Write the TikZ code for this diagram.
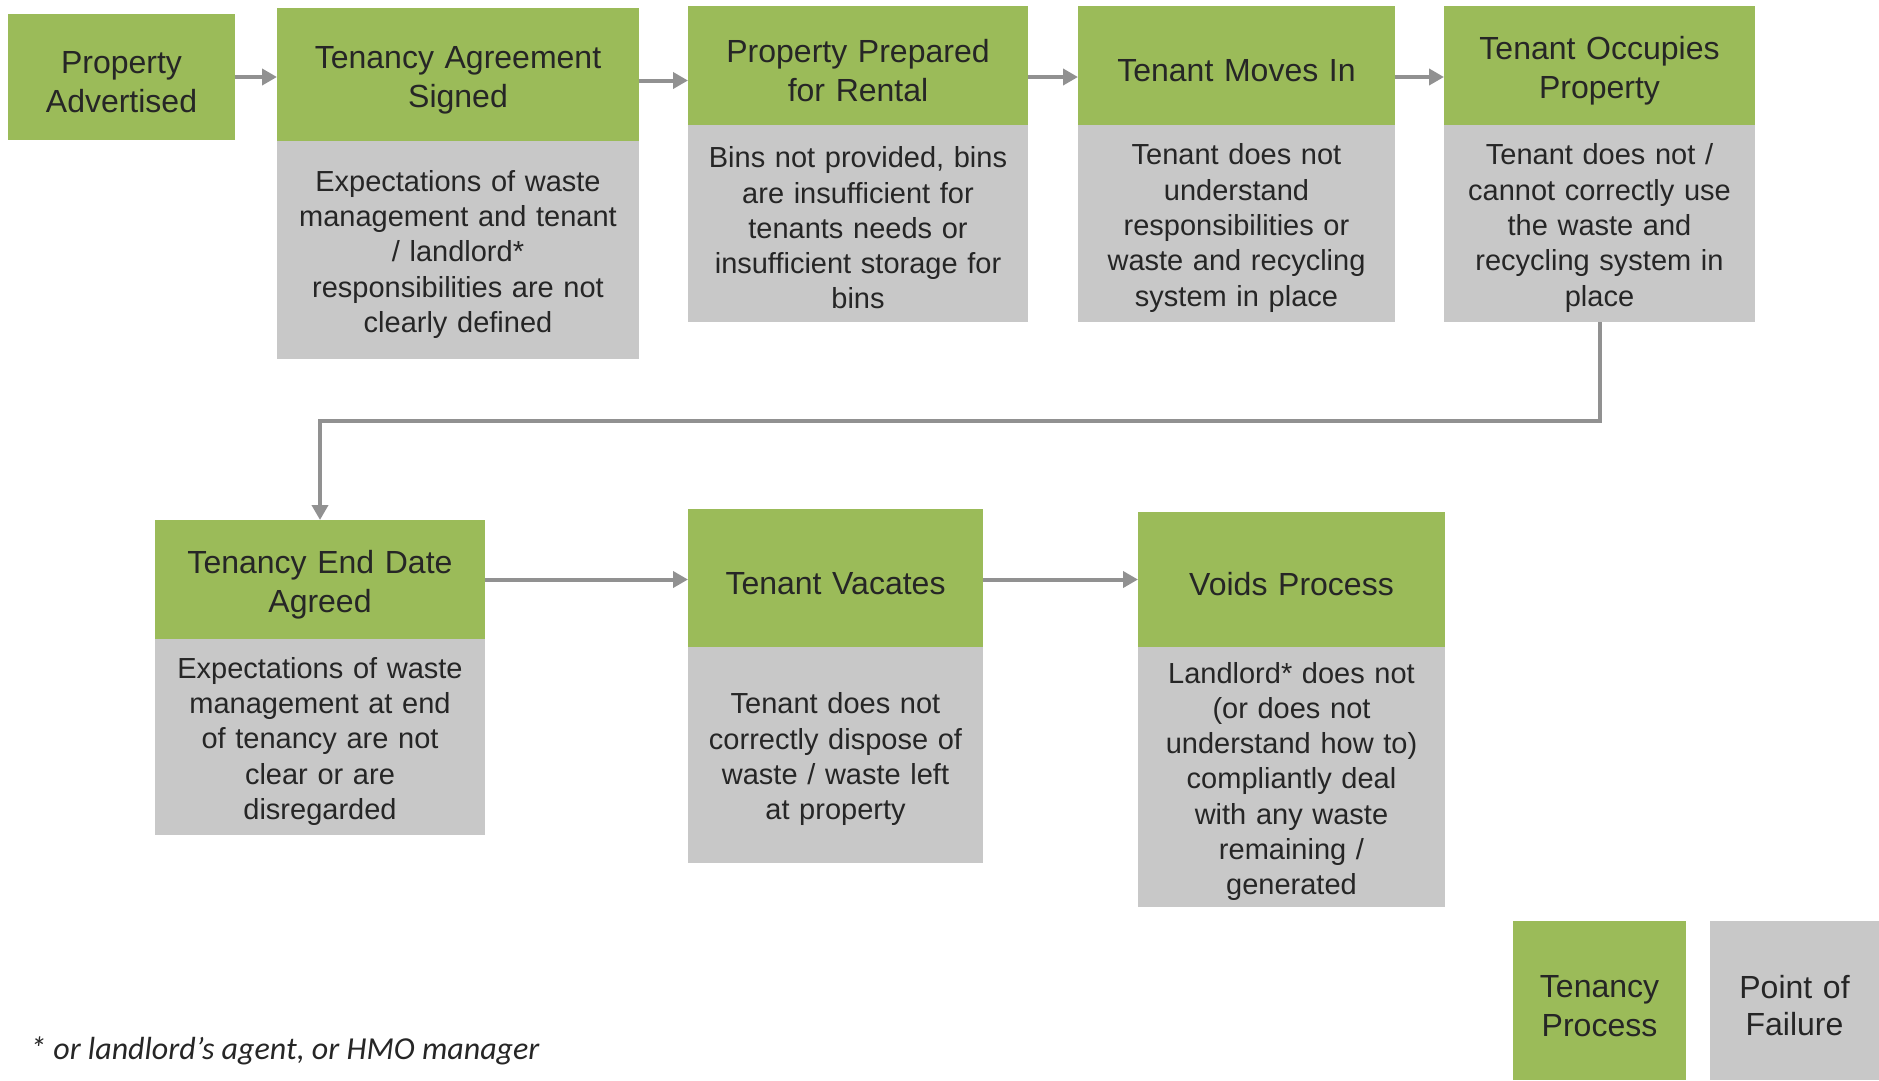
\documentclass[tikz,border=0pt]{standalone}
\usepackage{fontspec}
\setmainfont{Liberation Sans}
\newfontfamily\notefont{Carlito}
\usetikzlibrary{positioning,arrows.meta}
\definecolor{tenancygreen}{HTML}{9BBB59}
\definecolor{failgrey}{HTML}{C8C8C8}
\definecolor{flowgrey}{HTML}{919191}
\definecolor{labelgrey}{HTML}{262626}

\begin{document}
\begin{tikzpicture}[x=1pt,y=-1pt,
                    stage/.style={fill=tenancygreen, text=labelgrey, align=center,
                                  inner sep=0pt, outer sep=0pt, anchor=north west,
                                  execute at begin node={\rule{0pt}{1.03em}},
                                  font=\fontsize{32}{39}\selectfont},
                    failpoint/.style={fill=failgrey, text=labelgrey, align=center,
                                  inner sep=0pt, outer sep=0pt,
                                  execute at begin node={\rule{0pt}{1.03em}},
                                  font=\fontsize{29}{35.3}\selectfont},
                    flow/.style={draw=flowgrey, line width=4pt,
                                 -{Triangle[length=15pt,width=16pt]}}]
                \useasboundingbox (0,0) rectangle (1879,1080);
                % first row
                \node[stage, text width=227pt, minimum height=126pt] (advertised) at (8,14) {Property\\Advertised};
                \node[stage, text width=362pt, minimum height=133pt] (agreement) at (277,8) {Tenancy Agreement\\Signed};
                \node[failpoint, text width=362pt, minimum height=218pt, below=0pt of agreement] (agreementfail)
                    {Expectations of waste\\management and tenant\\/ landlord*\\responsibilities are not\\clearly defined};
                \node[stage, text width=340pt, minimum height=119pt] (prepared) at (688,6) {Property Prepared\\for Rental};
                \node[failpoint, text width=340pt, minimum height=197pt, below=0pt of prepared] (preparedfail)
                    {Bins not provided, bins\\are insufficient for\\tenants needs or\\insufficient storage for\\bins};
                \node[stage, text width=317pt, minimum height=119pt] (movesin) at (1078,6) {Tenant Moves In};
                \node[failpoint, text width=317pt, minimum height=197pt, below=0pt of movesin] (movesinfail)
                    {Tenant does not\\understand\\responsibilities or\\waste and recycling\\system in place};
                \node[stage, text width=311pt, minimum height=119pt] (occupies) at (1444,6) {Tenant Occupies\\Property};
                \node[failpoint, text width=311pt, minimum height=197pt, below=0pt of occupies] (occupiesfail)
                    {Tenant does not /\\cannot correctly use\\the waste and\\recycling system in\\place};
                % second row
                \node[stage, text width=330pt, minimum height=119pt] (enddate) at (155,520) {Tenancy End Date\\Agreed};
                \node[failpoint, text width=330pt, minimum height=196pt, below=0pt of enddate] (enddatefail)
                    {Expectations of waste\\management at end\\of tenancy are not\\clear or are\\disregarded};
                \node[stage, text width=295pt, minimum height=138pt] (vacates) at (688,509) {Tenant Vacates};
                \node[failpoint, text width=295pt, minimum height=216pt, below=0pt of vacates] (vacatesfail)
                    {Tenant does not\\correctly dispose of\\waste / waste left\\at property};
                \node[stage, text width=307pt, minimum height=135pt] (voids) at (1138,512) {Voids Process};
                \node[failpoint, text width=307pt, minimum height=260pt, below=0pt of voids] (voidsfail)
                    {Landlord* does not\\(or does not\\understand how to)\\compliantly deal\\with any waste\\remaining /\\generated};
                % legend and note
                \node[stage, text width=173pt, minimum height=159pt] (keyprocess) at (1513,921) {Tenancy\\Process};
                \node[failpoint, anchor=north west, text width=169pt, minimum height=159pt,
                      font=\fontsize{32}{37}\selectfont] (keyfailure) at (1710,921) {Point of\\Failure};
                \node[anchor=base west, inner sep=0pt, text=labelgrey,
                      font=\notefont\fontsize{32}{38}\selectfont\itshape] (note) at (30,1059)
                    {* or landlord’s agent, or HMO manager};
                % connectors
                \draw[flow] (advertised.east) -- (advertised.east -| agreement.west);
                \draw[flow] ([yshift=-6pt]agreement.east) -- ([yshift=-6pt]agreement.east -| prepared.west);
                \draw[flow] ([yshift=-11.5pt]prepared.east) -- ([yshift=-11.5pt]prepared.east -| movesin.west);
                \draw[flow] ([yshift=-11.5pt]movesin.east) -- ([yshift=-11.5pt]movesin.east -| occupies.west);
                \draw[flow] (occupiesfail.south) -- ++(0,99) -| (enddate.north);
                \draw[flow] (enddate.east) -- (enddate.east -| vacates.west);
                \draw[flow] (vacates.east |- enddate.east) -- (voids.west |- enddate.east);
\end{tikzpicture}
\end{document}
